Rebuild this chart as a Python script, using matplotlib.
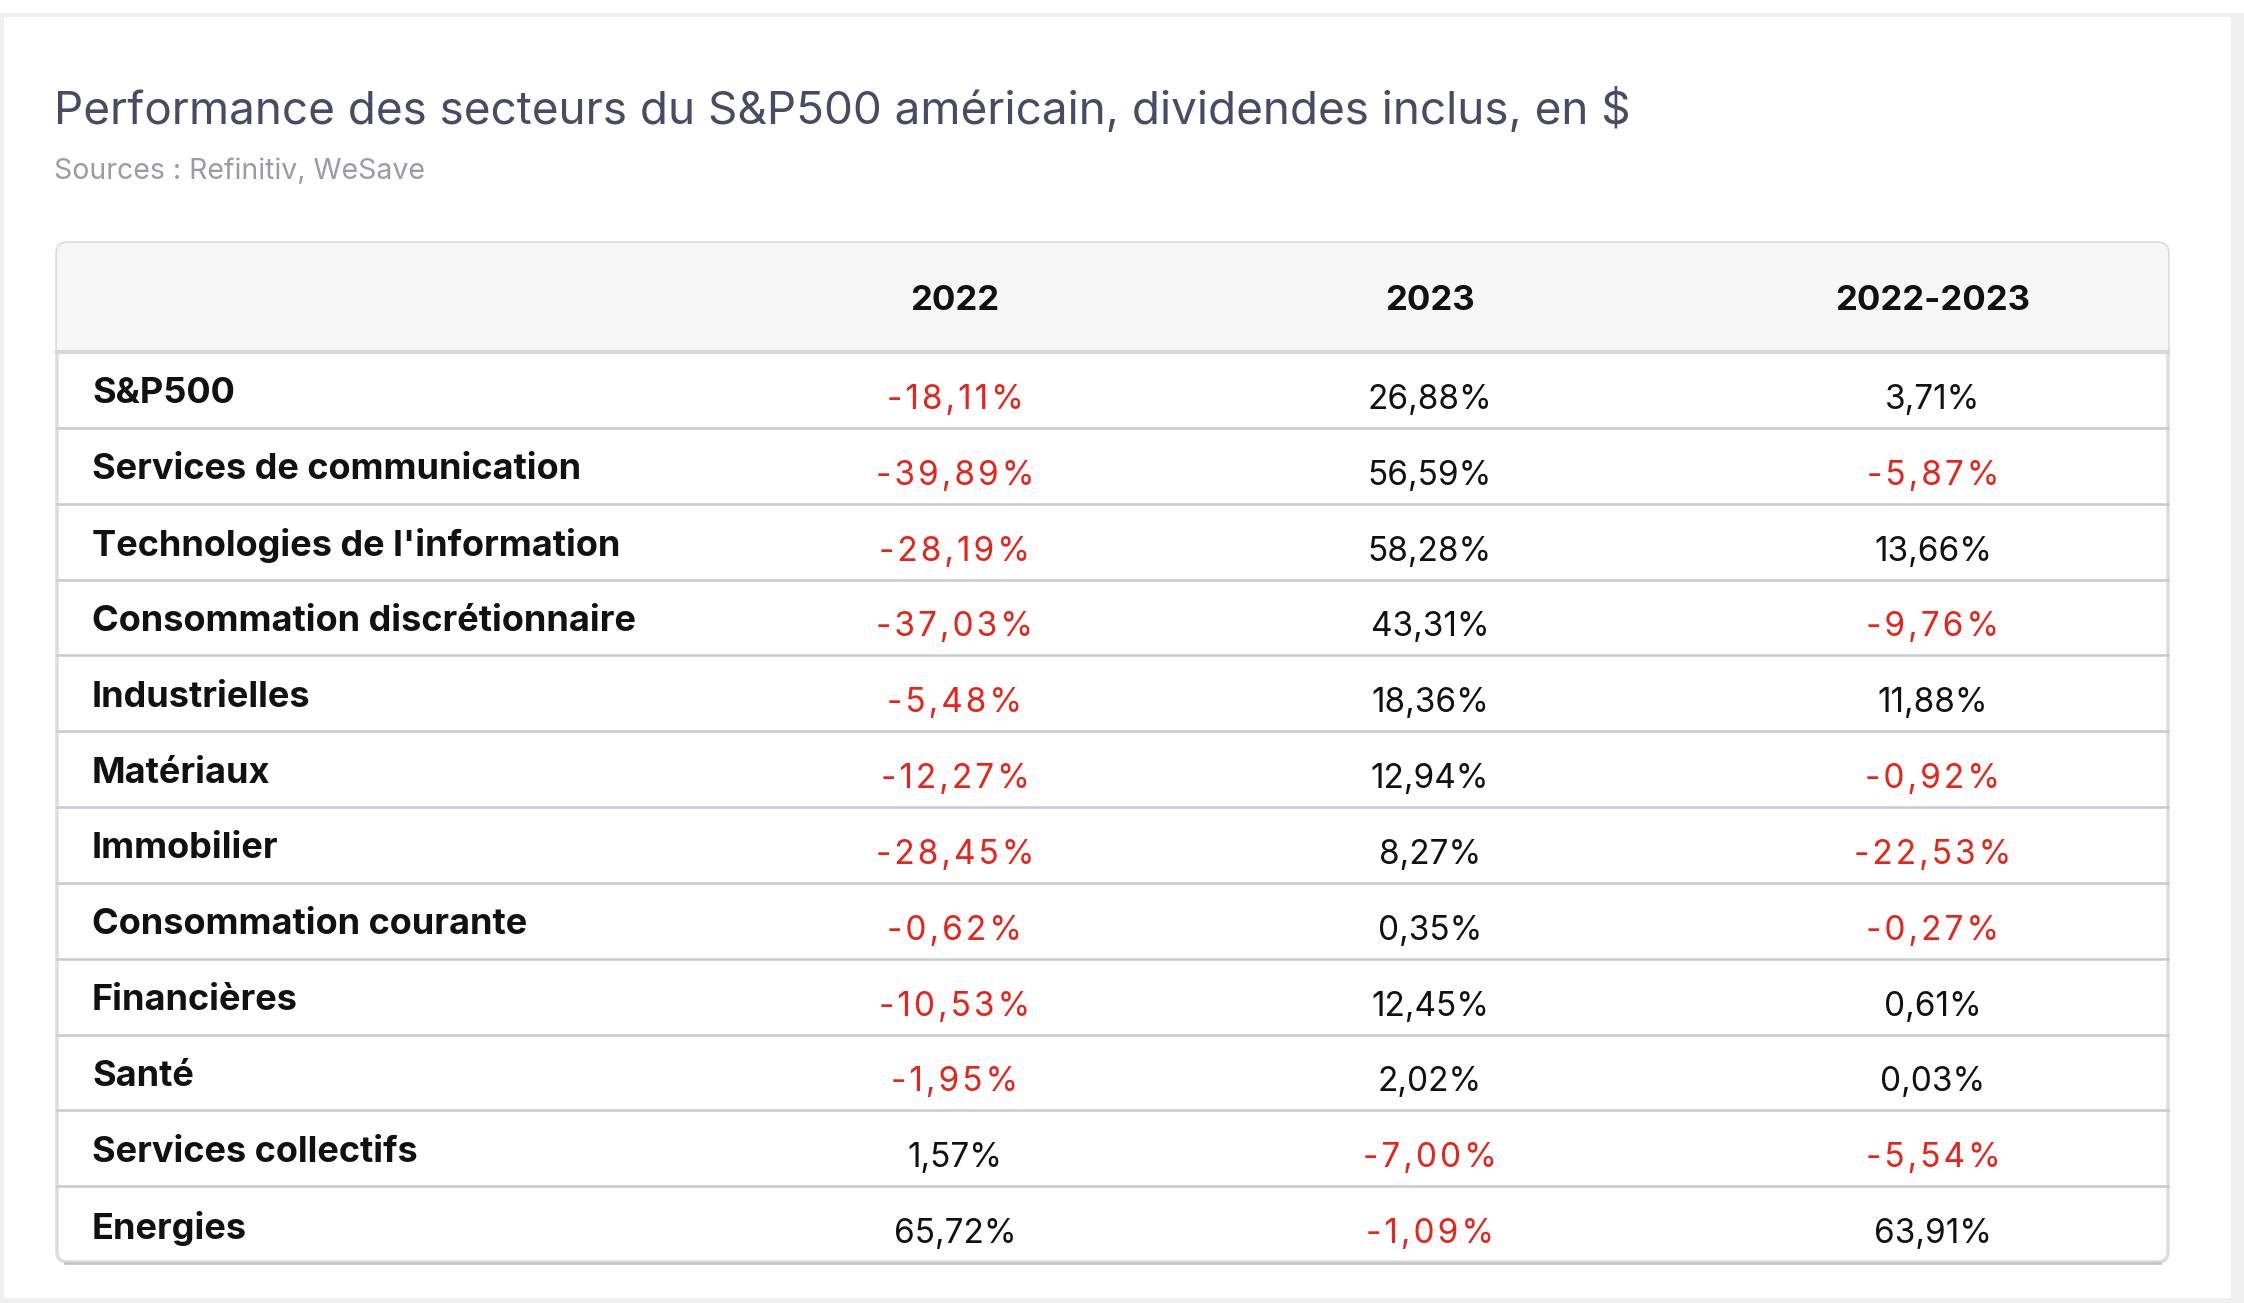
import matplotlib.pyplot as plt
from matplotlib.patches import Rectangle, FancyBboxPatch

plt.rcParams['font.family'] = ['Inter', 'DejaVu Sans']

# data
title = "Performance des secteurs du S&P500 américain, dividendes inclus, en $"
source = "Sources : Refinitiv, WeSave"
columns = ['2022', '2023', '2022-2023']
sectors = ['S&P500', 'Services de communication', "Technologies de l'information",
           'Consommation discrétionnaire', 'Industrielles', 'Matériaux', 'Immobilier',
           'Consommation courante', 'Financières', 'Santé', 'Services collectifs', 'Energies']
perf_2022 = [-18.11, -39.89, -28.19, -37.03, -5.48, -12.27, -28.45, -0.62, -10.53, -1.95, 1.57, 65.72]
perf_2023 = [26.88, 56.59, 58.28, 43.31, 18.36, 12.94, 8.27, 0.35, 12.45, 2.02, -7.00, -1.09]
perf_total = [3.71, -5.87, 13.66, -9.76, 11.88, -0.92, -22.53, -0.27, 0.61, 0.03, -5.54, 63.91]

W, H = 2244, 1303
fig = plt.figure(figsize=(W / 100, H / 100), dpi=100)
ax = fig.add_axes([0, 0, 1, 1])
ax.set_xlim(0, W)
ax.set_ylim(H, 0)
ax.axis('off')

# page frame
ax.add_patch(Rectangle((0, 13), W, H - 13, facecolor='#efefef', edgecolor='none'))
ax.add_patch(Rectangle((4, 17), 2227, 1281, facecolor='white', edgecolor='none'))

ax.text(54, 110, title, fontsize=33, color='#4a4a66', va='center', ha='left')
ax.text(54, 172, source, fontsize=20.5, color='#9a9aa8', va='center', ha='left')

# table geometry
tx0, tx1 = 57, 2168
ty0, head_bot, ty1 = 243, 352, 1262
row_h = (ty1 - head_bot) / len(sectors)
col_x = [955, 1430, 1933]

box = FancyBboxPatch((tx0, ty0), tx1 - tx0, ty1 - ty0,
                     boxstyle='round,pad=0,rounding_size=10',
                     facecolor='white', edgecolor='#dcdce2', linewidth=2.5)
ax.add_patch(box)
head = Rectangle((tx0, ty0), tx1 - tx0, head_bot - ty0, facecolor='#f6f6f6', edgecolor='none')
ax.add_patch(head)
head.set_clip_path(box)
ax.plot([tx0, tx1], [head_bot, head_bot], color='#d6d6dc', lw=3)

for c, x in zip(columns, col_x):
    ax.text(x, (ty0 + head_bot) / 2 + 3, c, fontsize=25, fontweight='bold',
            color='#111111', ha='center', va='center')


def fmt(v):
    s = f"{v:.2f}".replace('.', ',') + '%'
    if v < 0:
        # negative values are drawn with wider letter spacing
        s = '\u200a'.join(s)
    return s


for i, name in enumerate(sectors):
    yc = head_bot + (i + 0.5) * row_h
    if i > 0:
        yl = head_bot + i * row_h
        ax.plot([tx0, tx1], [yl, yl], color='#c9c9d3', lw=1.8)
    ax.text(92, yc + 4, name, fontsize=26, fontweight='bold', color='#111111',
            ha='left', va='center')
    for v, x in zip([perf_2022[i], perf_2023[i], perf_total[i]], col_x):
        ax.text(x, yc + 10, fmt(v), fontsize=24, color='#e8231a' if v < 0 else '#111111',
                ha='center', va='center')

ax.plot([tx0 + 8, tx1 - 8], [ty1 + 1, ty1 + 1], color='#c4c4cc', lw=2)

fig.savefig('out.png', dpi=100)
